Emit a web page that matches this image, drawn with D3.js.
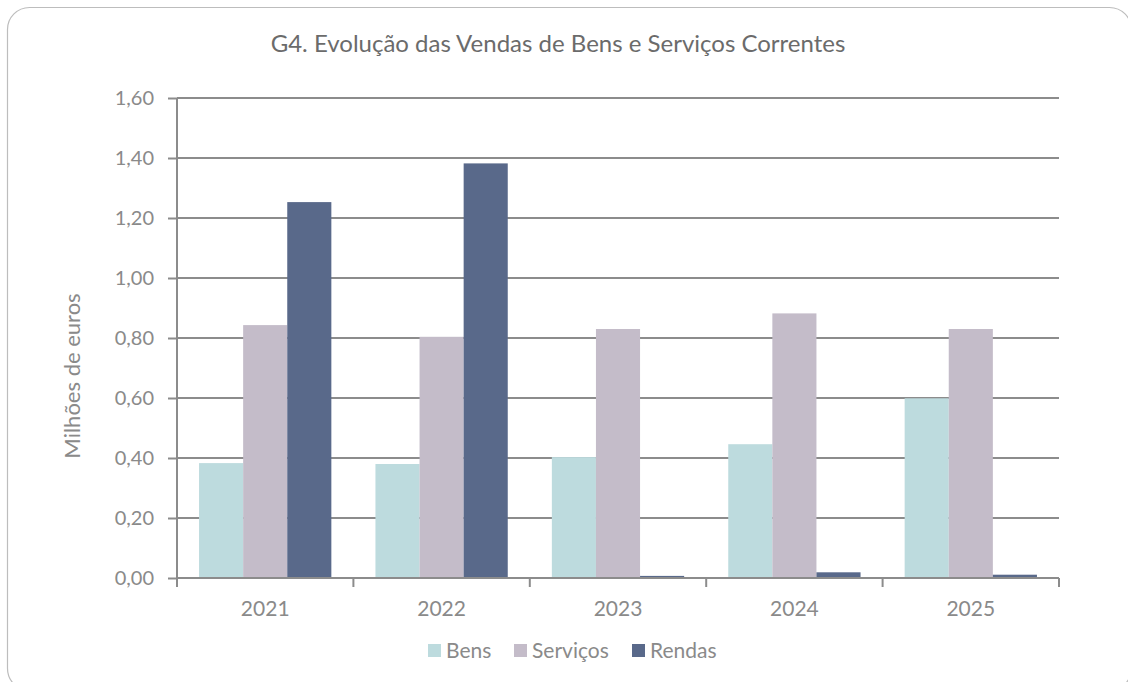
<!DOCTYPE html>
<html>
<head>
<meta charset="utf-8">
<script src="https://cdn.jsdelivr.net/npm/d3@7"></script>
<style>
  body { margin: 0; background: #fff; }
  svg { display: block; font-family: Lato, "Open Sans", sans-serif; }
</style>
</head>
<body>
<div id="chart"></div>
<script>
const years = ["2021", "2022", "2023", "2024", "2025"];
const seriesNames = ["Bens", "Serviços", "Rendas"];
const bens = [0.383, 0.380, 0.403, 0.446, 0.599];
const servicos = [0.843, 0.804, 0.830, 0.882, 0.830];
const rendas = [1.253, 1.382, 0.007, 0.019, 0.011];
const yTicks = [0, 0.2, 0.4, 0.6, 0.8, 1.0, 1.2, 1.4, 1.6];
const colors = ["#bddbde", "#c4bcc9", "#59698a"];

const width = 1128, height = 682;
const margin = { top: 98, right: 69, bottom: 104, left: 177 };
const innerWidth = width - margin.left - margin.right;
const innerHeight = height - margin.top - margin.bottom;

const data = years.map((y, i) => ({
  year: y,
  values: [bens[i], servicos[i], rendas[i]]
}));

const svg = d3.select("#chart")
  .append("svg")
  .attr("width", width)
  .attr("height", height);

// outer frame (right edge falls just outside the window)
svg.append("rect")
  .attr("x", 7.5)
  .attr("y", 7.5)
  .attr("width", 1124)
  .attr("height", 683)
  .attr("rx", 22)
  .attr("fill", "none")
  .attr("stroke", "#bdbdbd")
  .attr("stroke-width", 1.2);

svg.append("text")
  .attr("x", 558)
  .attr("y", 52)
  .attr("text-anchor", "middle")
  .attr("fill", "#6b6b6b")
  .attr("font-size", 24)
  .text("G4. Evolução das Vendas de Bens e Serviços Correntes");

const g = svg.append("g")
  .attr("transform", `translate(${margin.left},${margin.top})`);

const x = d3.scaleBand()
  .domain(years)
  .range([0, innerWidth])
  .paddingInner(0.25)
  .paddingOuter(0.125);

const xs = d3.scaleBand()
  .domain(seriesNames)
  .range([0, x.bandwidth()]);

const y = d3.scaleLinear()
  .domain([0, 1.6])
  .range([innerHeight, 0]);

const fmt = v => d3.format(".2f")(v).replace(".", ",");

// gridlines
g.append("g")
  .selectAll("line")
  .data(yTicks.slice(1))
  .enter()
  .append("line")
  .attr("x1", 0)
  .attr("x2", innerWidth)
  .attr("y1", d => y(d))
  .attr("y2", d => y(d))
  .attr("stroke", "#8c8c8c")
  .attr("stroke-width", 2);

// bars
const groups = g.selectAll(".grp")
  .data(data)
  .enter()
  .append("g")
  .attr("class", "grp")
  .attr("transform", d => `translate(${x(d.year)},0)`);

groups.selectAll("rect")
  .data(d => d.values.map((v, i) => ({ key: seriesNames[i], value: v, i })))
  .enter()
  .append("rect")
  .attr("x", d => xs(d.key))
  .attr("width", xs.bandwidth())
  .attr("y", d => y(d.value))
  .attr("height", d => innerHeight - y(d.value))
  .attr("fill", d => colors[d.i]);

// y axis
const yAxis = g.append("g")
  .call(d3.axisLeft(y).tickValues(yTicks).tickFormat(fmt).tickSize(9).tickPadding(14));
yAxis.select(".domain").attr("stroke", "#8c8c8c").attr("stroke-width", 2)
  .attr("d", `M0,${innerHeight}V0`);
yAxis.selectAll(".tick line").attr("stroke", "#8c8c8c").attr("stroke-width", 2);
yAxis.selectAll(".tick text")
  .attr("fill", "#8a8a8a")
  .attr("font-size", 20)
  .attr("font-family", "Lato, sans-serif");

// x axis
const xAxis = g.append("g")
  .attr("transform", `translate(0,${innerHeight})`)
  .call(d3.axisBottom(x).tickSize(0).tickPadding(23));
xAxis.select(".domain").attr("stroke", "#8c8c8c").attr("stroke-width", 2)
  .attr("d", `M0,0H${innerWidth}`);
xAxis.selectAll(".tick text")
  .attr("fill", "#8a8a8a")
  .attr("font-size", 21)
  .attr("font-family", "Lato, sans-serif");

// category boundary ticks
const step = x.step();
g.append("g")
  .selectAll("line")
  .data(d3.range(years.length + 1))
  .enter()
  .append("line")
  .attr("x1", d => d * step)
  .attr("x2", d => d * step)
  .attr("y1", innerHeight)
  .attr("y2", innerHeight + 9)
  .attr("stroke", "#8c8c8c")
  .attr("stroke-width", 2);

// y axis label
svg.append("text")
  .attr("transform", "translate(80,376) rotate(-90)")
  .attr("text-anchor", "middle")
  .attr("fill", "#8a8a8a")
  .attr("font-size", 22)
  .text("Milhões de euros");

// legend
const legendX = [428, 514, 632];
const legend = svg.append("g");
seriesNames.forEach((name, i) => {
  legend.append("rect")
    .attr("x", legendX[i])
    .attr("y", 644)
    .attr("width", 13)
    .attr("height", 13)
    .attr("fill", colors[i]);
  legend.append("text")
    .attr("x", legendX[i] + 18)
    .attr("y", 658)
    .attr("fill", "#8a8a8a")
    .attr("font-size", 21)
    .text(name);
});
</script>
</body>
</html>
